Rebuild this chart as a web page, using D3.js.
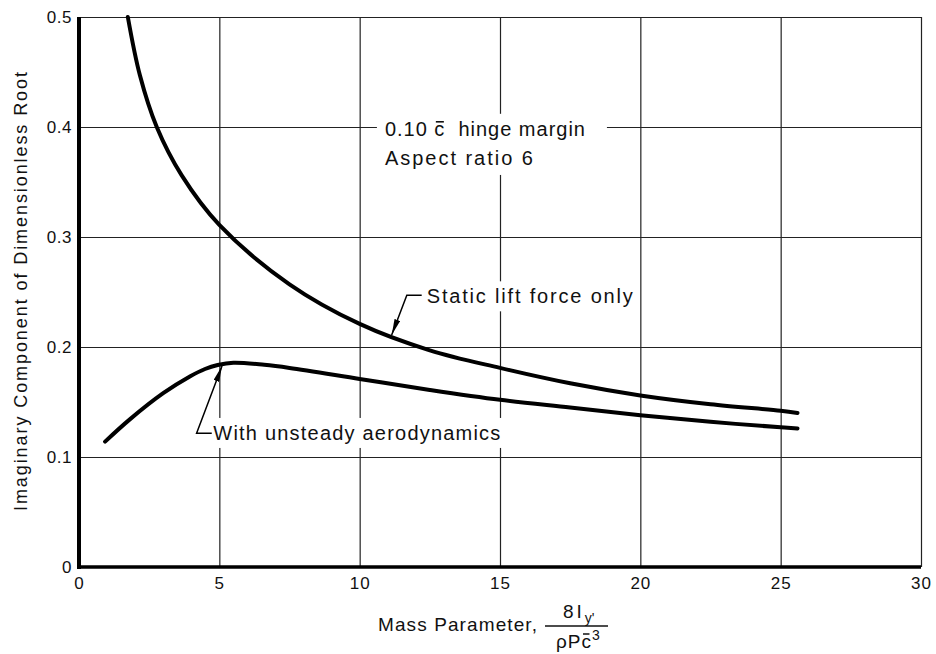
<!DOCTYPE html>
<html><head><meta charset="utf-8">
<script src="https://cdn.jsdelivr.net/npm/d3@7"></script>
<style>
body{margin:0;background:#fff}
svg{display:block}
text{font-family:"Liberation Sans",Arial,sans-serif;fill:#111}
</style></head><body>
<svg id="chart" width="936" height="654"></svg>
<script>
// Imaginary part of the dimensionless root vs. mass parameter
const staticX   = [1.74, 2.17, 2.77, 3.66, 5.0, 7.5, 10, 12.5, 15, 17.5, 20, 22.5, 25, 25.6];
const staticY   = [0.5, 0.447, 0.4, 0.356, 0.311, 0.257, 0.221, 0.197, 0.181, 0.167, 0.156, 0.148, 0.142, 0.140];
const unsteadyX = [0.93, 1.8, 3.0, 3.95, 4.49, 4.94, 5.5, 6.6, 7.5, 10, 12.5, 15, 17.5, 20, 22.5, 25, 25.6];
const unsteadyY = [0.114, 0.134, 0.158, 0.1732, 0.180, 0.1836, 0.1857, 0.1838, 0.181, 0.171, 0.161, 0.152, 0.145, 0.138, 0.132, 0.127, 0.126];
const xTickValues = [0, 5, 10, 15, 20, 25, 30];
const xTickLabels = ["0", "5", "10", "15", "20", "25", "30"];
const yTickValues = [0, 0.1, 0.2, 0.3, 0.4, 0.5];
const yTickLabels = ["0", "0.1", "0.2", "0.3", "0.4", "0.5"];

const svg = d3.select("#chart");
const x = d3.scaleLinear().domain([0, 30]).range([79, 921]);
const y = d3.scaleLinear().domain([0, 0.5]).range([567, 17]);

// stretch a label's letter spacing so it covers a given width
function fit(sel, width) {
  const n = sel.text().length;
  const w = sel.node().getComputedTextLength();
  sel.attr("letter-spacing", ((width - w) / (n - 1)).toFixed(2));
  return sel;
}

// grid via axes
const gx = svg.append("g").attr("transform", `translate(0,${y(0)})`)
  .call(d3.axisBottom(x).tickValues(xTickValues)
    .tickFormat((d, i) => xTickLabels[i])
    .tickSize(-(y(0) - y(0.5))).tickPadding(10));
const gy = svg.append("g").attr("transform", `translate(${x(0)},0)`)
  .call(d3.axisLeft(y).tickValues(yTickValues)
    .tickFormat((d, i) => yTickLabels[i])
    .tickSize(-(x(30) - x(0))).tickPadding(7));
[gx, gy].forEach(g => {
  g.select(".domain").remove();
  g.selectAll(".tick line").attr("stroke", "#222").attr("stroke-width", 1.2);
  g.selectAll(".tick text").attr("font-size", 17).attr("fill", "#111")
    .attr("font-family", "'Liberation Sans', Arial, sans-serif");
});
gx.selectAll(".tick text").attr("letter-spacing", 1);
gy.selectAll(".tick text").attr("letter-spacing", 0.5);

// heavy axis lines
svg.append("line").attr("x1", x(0)).attr("x2", x(0)).attr("y1", y(0.5)).attr("y2", y(0) + 2)
  .attr("stroke", "#000").attr("stroke-width", 4);
svg.append("line").attr("x1", x(0) - 2).attr("x2", x(30)).attr("y1", y(0)).attr("y2", y(0))
  .attr("stroke", "#000").attr("stroke-width", 3.5);

const boxLayer = svg.append("g");
const textLayer = svg.append("g");

function box(sel, pl, pr, pt, pb) {
  const b = sel.node().getBBox();
  boxLayer.append("rect").attr("x", b.x - pl).attr("y", b.y - pt)
    .attr("width", b.width + pl + pr).attr("height", b.height + pt + pb).attr("fill", "#fff");
}

// note block
const n1 = textLayer.append("text").attr("x", x(10.9)).attr("y", y(0.392))
  .attr("font-size", 20).text("0.10 c\u00a0 hinge margin");
fit(n1, 200);
const n2 = textLayer.append("text").attr("x", x(10.9)).attr("y", y(0.3655))
  .attr("font-size", 20).text("Aspect ratio 6");
fit(n2, 148);
{
  const c = n1.node().getExtentOfChar(5);
  const by = y(0.392);
  textLayer.append("line").attr("x1", c.x + 1.5).attr("x2", c.x + c.width - 1.5)
    .attr("y1", by - 14).attr("y2", by - 14).attr("stroke", "#111").attr("stroke-width", 1.6);
  const b1 = n1.node().getBBox(), b2 = n2.node().getBBox();
  boxLayer.append("rect").attr("x", b1.x - 8).attr("y", b1.y - 4)
    .attr("width", 230).attr("height", b2.y + b2.height - b1.y + 10).attr("fill", "#fff");
}

// curve labels
const sLab = textLayer.append("text").attr("x", x(12.39)).attr("y", y(0.2397))
  .attr("font-size", 20).text("Static lift force only");
fit(sLab, 206);
box(sLab, 6, 0, 4, 4);
const uLab = textLayer.append("text").attr("x", x(4.785)).attr("y", y(0.1155))
  .attr("font-size", 20).text("With unsteady aerodynamics");
fit(uLab, 287);
box(uLab, 6, 4, 4, 4);

// curves
const line = d3.line().x(d => x(d[0])).y(d => y(d[1])).curve(d3.curveCatmullRom.alpha(0.5));
const series = [d3.zip(staticX, staticY), d3.zip(unsteadyX, unsteadyY)];
svg.append("g").selectAll("path").data(series).join("path")
  .attr("d", line).attr("fill", "none").attr("stroke", "#000")
  .attr("stroke-width", 4).attr("stroke-linecap", "round").attr("stroke-linejoin", "round");

// leaders with arrowheads
svg.append("defs").append("marker").attr("id", "arr")
  .attr("viewBox", "0 0 16 6").attr("refX", 16).attr("refY", 3)
  .attr("markerWidth", 16).attr("markerHeight", 6).attr("markerUnits", "userSpaceOnUse")
  .attr("orient", "auto")
  .append("path").attr("d", "M0,0 L16,3 L0,6 Z").attr("fill", "#000");
const leader = d3.line().x(d => x(d[0])).y(d => y(d[1]));
[[[12.21, 0.247], [11.68, 0.247], [11.14, 0.211]],
 [[4.73, 0.1215], [4.19, 0.1215], [5.095, 0.1827]]].forEach(pts => {
  svg.append("path").attr("d", leader(pts)).attr("fill", "none")
    .attr("stroke", "#000").attr("stroke-width", 1.5).attr("marker-end", "url(#arr)");
});

// y title
const yt = svg.append("text").attr("transform", "translate(27,511) rotate(-90)")
  .attr("font-size", 18).text("Imaginary Component of Dimensionless Root");
fit(yt, 439);

// x title with fraction
const xt = svg.append("text").attr("x", 378).attr("y", 631).attr("font-size", 19).text("Mass Parameter,");
fit(xt, 159);
svg.append("line").attr("x1", 545).attr("x2", 608).attr("y1", 626).attr("y2", 626)
  .attr("stroke", "#111").attr("stroke-width", 1.5);
const num = svg.append("text").attr("x", 563).attr("y", 618).attr("font-size", 19);
num.append("tspan").attr("letter-spacing", 3).text("8I");
num.append("tspan").attr("font-size", 14).attr("dy", 5).text("y'");
const den = svg.append("text").attr("x", 556).attr("y", 648).attr("font-size", 19);
den.append("tspan").attr("letter-spacing", 1).text("\u03c1Pc");
den.append("tspan").attr("font-size", 14).attr("dy", -8).text("3");
{
  const c = den.node().getExtentOfChar(2);
  svg.append("line").attr("x1", c.x + 1.5).attr("x2", c.x + c.width - 2.5)
    .attr("y1", 648 - 14).attr("y2", 648 - 14).attr("stroke", "#111").attr("stroke-width", 1.5);
}
</script>
</body></html>
